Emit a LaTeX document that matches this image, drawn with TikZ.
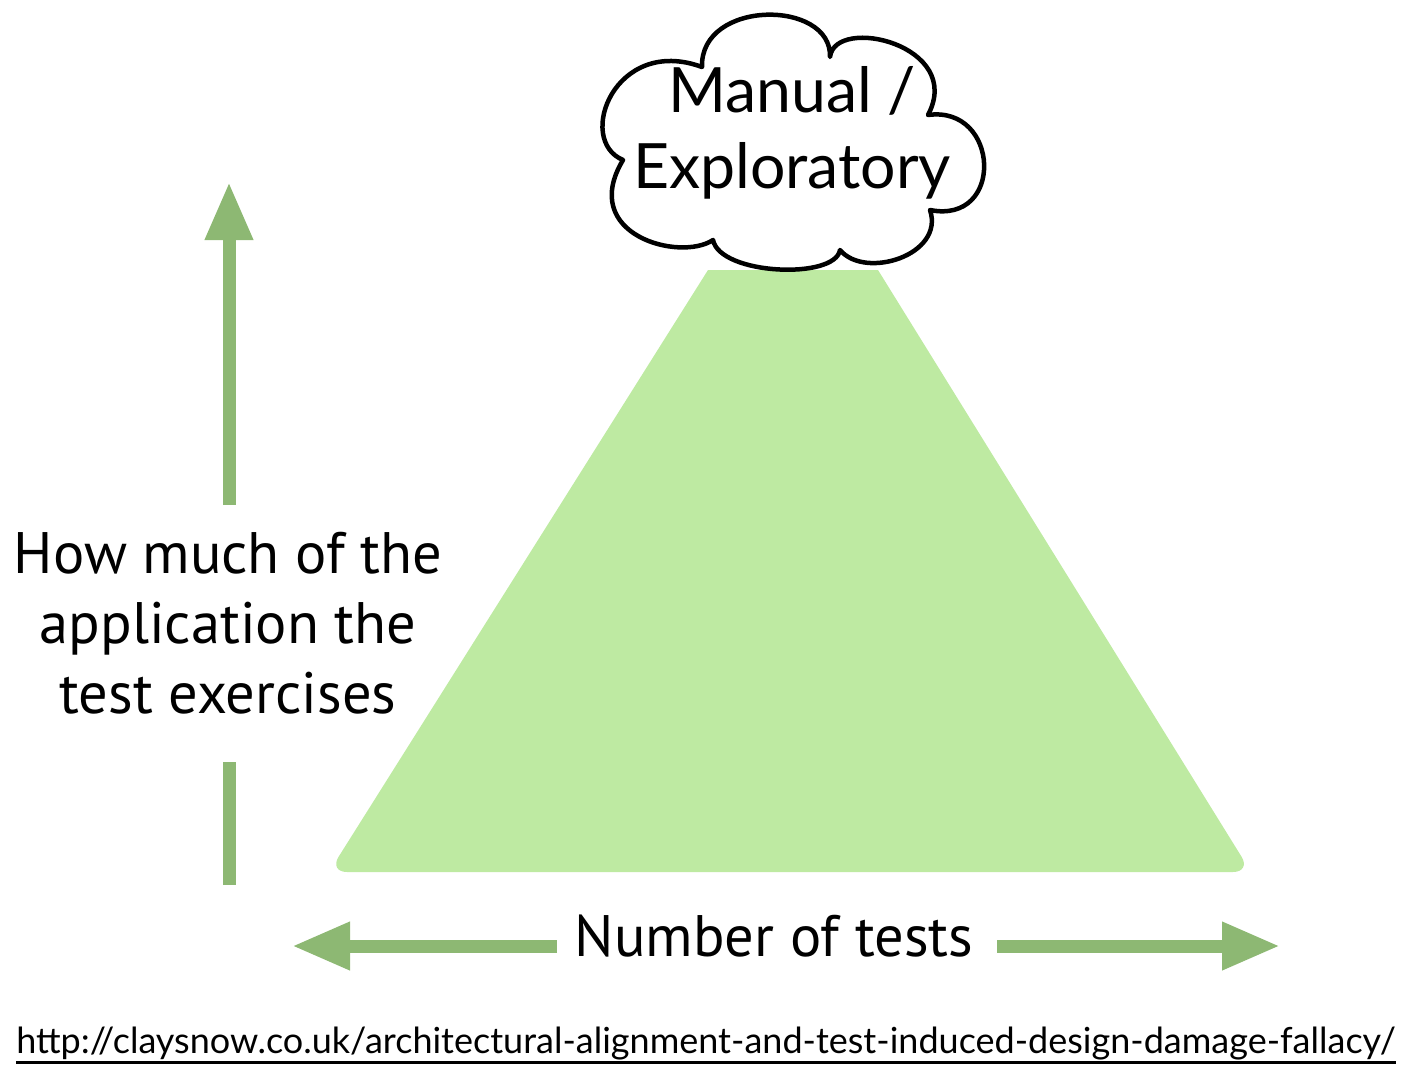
\documentclass[tikz,border=0pt]{standalone}
\usepackage{fontspec}
\setmainfont{Lato}
\newfontfamily\axisfont{PT Sans}
\usetikzlibrary{arrows.meta}
\definecolor{pyramid}{RGB}{190,234,162}
\definecolor{axis}{RGB}{141,184,115}

\tikzset{
  axisline/.style={axis, line width=13pt},
  axishead/.style={axisline, -{Triangle[width=45pt,length=58pt]}},
  axislabel/.style={font=\axisfont\fontsize{58.5}{70}\selectfont, align=center, inner sep=0pt},
  cloudline/.style={draw=black, fill=white, line width=4.5pt, line join=round},
}

\begin{document}
\begin{tikzpicture}[x=1pt,y=-1pt]
\useasboundingbox (0,0) rectangle (1410,1074);

\coordinate (tl) at (708,270);
\coordinate (tr) at (878,270);
\coordinate (br) at (1251,872);
\coordinate (bl) at (329,872);

\coordinate (vbot) at (229,885);
\coordinate (vlow) at (229,762);
\coordinate (vhigh) at (229,505);
\coordinate (vtip) at (229,182);

\coordinate (hleft) at (557,946);
\coordinate (hltip) at (292,946);
\coordinate (hright) at (997,946);
\coordinate (hrtip) at (1280,946);

% dents of the cloud
\coordinate (p1) at (623,160);
\coordinate (p2) at (702,67);
\coordinate (p3) at (830,57);
\coordinate (p4) at (928,115);
\coordinate (p5) at (930,210);
\coordinate (p6) at (840,250);
\coordinate (p7) at (713,240);

% pyramid
\fill[pyramid] (tl) -- (tr) [rounded corners=18pt] -- (br) -- (bl) [sharp corners] -- cycle;

% axes
\draw[axisline] (vbot) -- (vlow);
\draw[axishead] (vhigh) -- (vtip);
\draw[axishead] (hleft) -- (hltip);
\draw[axishead] (hright) -- (hrtip);

\node[axislabel] (cover) at (228,623) {How much of the\\application the\\test exercises};
\node[axislabel] (count) at (774,936) {Number of tests};

% cloud on top
\path[cloudline] (p1) .. controls (575,140) and (615,35) .. (p2)
  .. controls (700,-1) and (832,-1) .. (p3)
  .. controls (835,15) and (965,45) .. (p4)
  .. controls (1000,105) and (1005,225) .. (p5)
  .. controls (945,255) and (865,280) .. (p6)
  .. controls (835,280) and (720,275) .. (p7)
  .. controls (680,262) and (578,235) .. cycle;
\node[align=center, inner sep=0pt, font=\fontsize{62.5}{76}\selectfont]
      (manual) at (792,133) {Manual /\\Exploratory};

\node[anchor=base, font=\fontsize{36}{40}\selectfont, inner sep=0pt] (url) at (706,1053)
  {http://claysnow.co.uk/architectural-alignment-and-test-induced-design-damage-fallacy/};
\draw[line width=3pt] ([yshift=-9pt]url.base west) -- ([yshift=-9pt]url.base east);
\end{tikzpicture}
\end{document}
